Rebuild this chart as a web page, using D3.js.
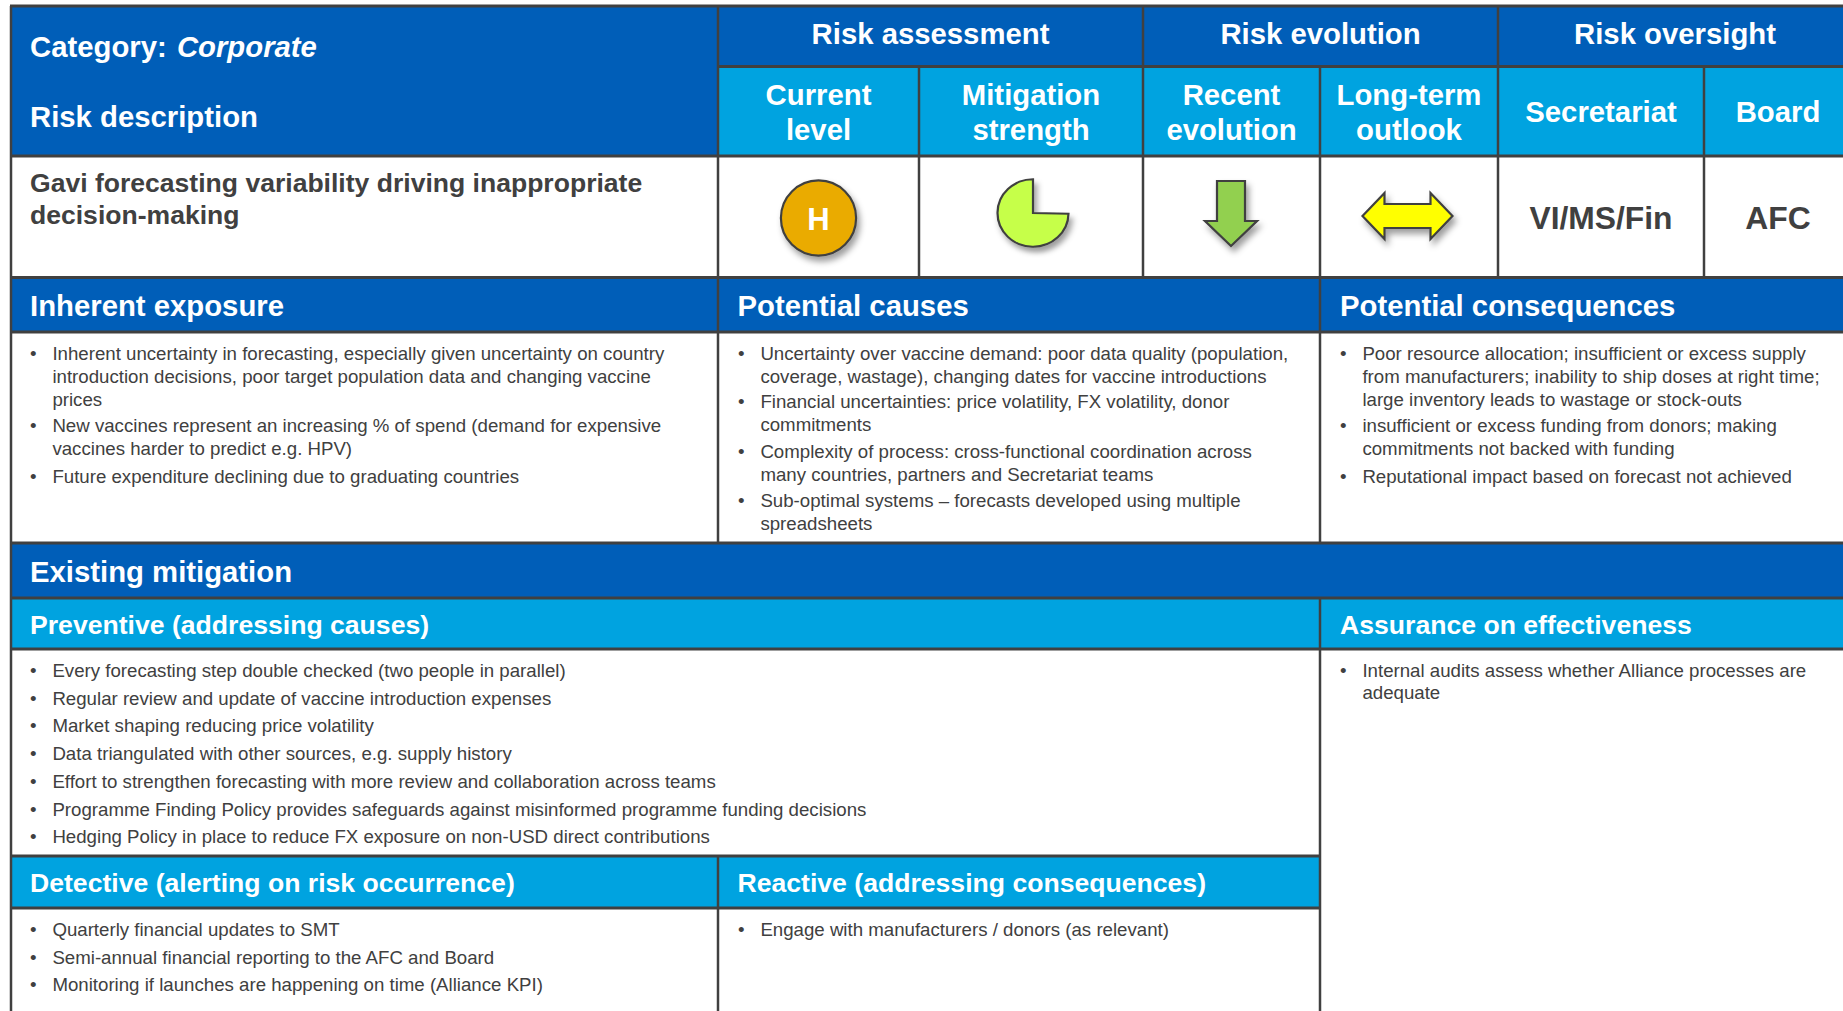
<!DOCTYPE html>
<html>
<head>
<meta charset="utf-8">
<script src="https://cdn.jsdelivr.net/npm/d3@7"></script>
<style>
  html, body { margin: 0; padding: 0; background: #fff; overflow: hidden; }
  text { font-family: "Liberation Sans", Arial, sans-serif; }
</style>
</head>
<body>
<div id="chart"></div>
<script>
//Table text
var groupHeaders = ["Risk assessment", "Risk evolution", "Risk oversight"];
var subHeaders = [["Current", "level"], ["Mitigation", "strength"], ["Recent", "evolution"], ["Long-term", "outlook"], ["Secretariat"], ["Board"]];
var riskTitle = ["Gavi forecasting variability driving inappropriate", "decision-making"];
var currentLevel = "H";
var mitigationStrength = 0.75;   //share of the pie that is filled
var oversight = ["VI/MS/Fin", "AFC"];

var exposureItems = [
    ["Inherent uncertainty in forecasting, especially given uncertainty on country", "introduction decisions, poor target population data and changing vaccine", "prices"],
    ["New vaccines represent an increasing % of spend (demand for expensive", "vaccines harder to predict e.g. HPV)"],
    ["Future expenditure declining due to graduating countries"]
];
var causeItems = [
    ["Uncertainty over vaccine demand: poor data quality (population,", "coverage, wastage), changing dates for vaccine introductions"],
    ["Financial uncertainties: price volatility, FX volatility, donor", "commitments"],
    ["Complexity of process: cross-functional coordination across", "many countries, partners and Secretariat teams"],
    ["Sub-optimal systems \u2013 forecasts developed using multiple", "spreadsheets"]
];
var consequenceItems = [
    ["Poor resource allocation; insufficient or excess supply", "from manufacturers; inability to ship doses at right time;", "large inventory leads to wastage or stock-outs"],
    ["insufficient or excess funding from donors; making", "commitments not backed with funding"],
    ["Reputational impact based on forecast not achieved"]
];
var preventiveItems = [
    ["Every forecasting step double checked (two people in parallel)"],
    ["Regular review and update of vaccine introduction expenses"],
    ["Market shaping reducing price volatility"],
    ["Data triangulated with other sources, e.g. supply history"],
    ["Effort to strengthen forecasting with more review and collaboration across teams"],
    ["Programme Finding Policy provides safeguards against misinformed programme funding decisions"],
    ["Hedging Policy in place to reduce FX exposure on non-USD direct contributions"]
];
var detectiveItems = [
    ["Quarterly financial updates to SMT"],
    ["Semi-annual financial reporting to the AFC and Board"],
    ["Monitoring if launches are happening on time (Alliance KPI)"]
];
var reactiveItems = [["Engage with manufacturers / donors (as relevant)"]];
var assuranceItems = [["Internal audits assess whether Alliance processes are", "adequate"]];

//Stablish svg size
var svgWidth = 1843;
var svgHeight = 1011;

//Column and row edges of the table
var left = 11, c1 = 718, c2 = 919, c3 = 1143, c4 = 1320, c5 = 1498, c6 = 1704, right = 1852;
var r0 = 6, r1 = 66.5, r2 = 156, r3 = 277.5, r4 = 332, r5 = 543, r6 = 598, r7 = 649, r8 = 856, r9 = 908, bottom = 1015;

var darkBlue = "#005EB8";
var lightBlue = "#00A3E0";
var ink = "#404040";
var headSize = 29.3, midSize = 26.6, bodySize = 18.66, lineGap = 23;

var svg = d3.select("#chart")
    .append("svg")
    .attr("width", svgWidth)
    .attr("height", svgHeight)
    .style("display", "block");

//Soft shadow under the icons
var shadow = svg.append("defs").append("filter")
    .attr("id", "shadow")
    .attr("x", "-30%").attr("y", "-30%")
    .attr("width", "170%").attr("height", "170%");
shadow.append("feDropShadow")
    .attr("dx", 3).attr("dy", 5)
    .attr("stdDeviation", 3)
    .attr("flood-color", "#000")
    .attr("flood-opacity", 0.38);

//Filled bands
function band(x0, y0, x1, y1, fill){
    svg.append("rect")
        .attr("x", x0).attr("y", y0)
        .attr("width", x1 - x0).attr("height", y1 - y0)
        .attr("fill", fill);
}
band(left, r0, right, r1, darkBlue);
band(left, r0, c1, r2, darkBlue);
band(c1, r1, right, r2, lightBlue);
band(left, r3, right, r4, darkBlue);
band(left, r5, right, r6, darkBlue);
band(left, r6, right, r7, lightBlue);
band(left, r8, c4, r9, lightBlue);

//Grid lines
function rule(x0, y0, x1, y1, w){
    svg.append("line")
        .attr("x1", x0).attr("y1", y0)
        .attr("x2", x1).attr("y2", y1)
        .attr("stroke", ink)
        .attr("stroke-width", w);
}
[r0, r2, r3, r4, r5, r6, r7].forEach(function(y){ rule(left - 1, y, right, y, 3); });
rule(c1, r1, right, r1, 3);
rule(left - 1, r8, c4 + 1, r8, 3);
rule(left - 1, r9, c4 + 1, r9, 3);
rule(left, r0, left, bottom, 2.5);
rule(c1, r0, c1, r5, 2.5);
rule(c1, r8, c1, bottom, 2.5);
rule(c2, r1, c2, r3, 2.5);
rule(c3, r0, c3, r3, 2.5);
rule(c4, r1, c4, r5, 2.5);
rule(c4, r6, c4, bottom, 2.5);
rule(c5, r0, c5, r3, 2.5);
rule(c6, r1, c6, r3, 2.5);

//Text helper
function label(str, x, y, size, opts){
    opts = opts || {};
    return svg.append("text")
        .attr("x", x).attr("y", y)
        .attr("font-size", size)
        .attr("font-weight", opts.weight || "bold")
        .attr("fill", opts.fill || "#fff")
        .attr("text-anchor", opts.anchor || "start")
        .text(str);
}

//Top header
var cat = label("Category: ", 30, 57, headSize);
cat.append("tspan").attr("font-style", "italic").attr("dx", 2).text("Corporate");
label("Risk description", 30, 127, headSize);

var groupCentres = [(c1 + c3) / 2, (c3 + c5) / 2, (c5 + right) / 2];
groupHeaders.forEach(function(h, i){
    label(h, groupCentres[i], 44, headSize, {anchor: "middle"});
});

var subCentres = [(c1 + c2) / 2, (c2 + c3) / 2, (c3 + c4) / 2, (c4 + c5) / 2, (c5 + c6) / 2, (c6 + right) / 2];
subHeaders.forEach(function(lines, i){
    var ys = lines.length == 2 ? [105, 140] : [122];
    lines.forEach(function(line, j){
        label(line, subCentres[i], ys[j], headSize, {anchor: "middle"});
    });
});

//Risk row
riskTitle.forEach(function(line, i){
    label(line, 30, 192 + i * 32, 26.55, {fill: ink});
});
oversight.forEach(function(o, i){
    label(o, subCentres[4 + i], 229, 31.8, {fill: ink, anchor: "middle"});
});

var iconLine = {stroke: ink, "stroke-width": 2.2, "stroke-linejoin": "miter", filter: "url(#shadow)"};
function styled(sel, fill){
    Object.keys(iconLine).forEach(function(k){ sel.attr(k, iconLine[k]); });
    return sel.attr("fill", fill);
}

//Current level
styled(svg.append("circle").attr("cx", subCentres[0]).attr("cy", 218).attr("r", 37.6), "#EAAB00");
label(currentLevel, subCentres[0], 229.5, 31, {anchor: "middle"});

//Mitigation strength pie, the empty part is the top right
var pieAngle = d3.scaleLinear().domain([0, 1]).range([0, 2 * Math.PI]);
var pieArc = d3.arc().innerRadius(0).outerRadius(35.5)
    .startAngle(pieAngle(1 - mitigationStrength) + 0.02)
    .endAngle(pieAngle(1));
styled(svg.append("path")
    .attr("transform", "translate(1033, 213) scale(1, 0.95)")
    .attr("d", pieArc()), "#C6FF4A");

//Recent evolution arrow
var arrowLine = d3.line();
styled(svg.append("path")
    .attr("transform", "translate(1231, 181)")
    .attr("d", arrowLine([[-14, 0], [14, 0], [14, 40], [26, 40], [0, 65], [-26, 40], [-14, 40]]) + "Z"), "#92D050");

//Long-term outlook arrow
styled(svg.append("path")
    .attr("transform", "translate(1407.5, 216)")
    .attr("d", arrowLine([[-45, 0], [-23, -23], [-23, -12], [23, -12], [23, -23], [45, 0], [23, 23], [23, 12], [-23, 12], [-23, 23]]) + "Z"), "#FFFF00");

//Section titles
label("Inherent exposure", 30, 316, headSize);
label("Potential causes", 737.5, 316, headSize);
label("Potential consequences", 1340, 316, headSize);
label("Existing mitigation", 30, 582, headSize);
label("Preventive (addressing causes)", 30, 634, midSize);
label("Assurance on effectiveness", 1340, 634, midSize);
label("Detective (alerting on risk occurrence)", 30, 892, midSize);
label("Reactive (addressing consequences)", 737.5, 892, midSize);

//Bullet lists, gaps holds the extra space put before each bullet
function bullets(items, x, y0, step, gaps){
    var y = y0;
    items.forEach(function(item, i){
        y += gaps[i] || 0;
        label("\u2022", x, y, bodySize, {weight: "normal", fill: ink});
        item.forEach(function(line){
            label(line, x + 22.4, y, bodySize, {weight: "normal", fill: ink});
            y += step;
        });
    });
}
bullets(exposureItems, 30, 360, lineGap, [0, 2.7, 5]);
bullets(causeItems, 738, 360, lineGap, [0, 1.7, 4.7, 2.5]);
bullets(consequenceItems, 1340, 360, lineGap, [0, 2.7, 5]);
bullets(preventiveItems, 30, 677, 27.7, []);
bullets(detectiveItems, 30, 936, 27.6, []);
bullets(reactiveItems, 738, 936, lineGap, []);
bullets(assuranceItems, 1340, 677, 22, []);
</script>
</body>
</html>
